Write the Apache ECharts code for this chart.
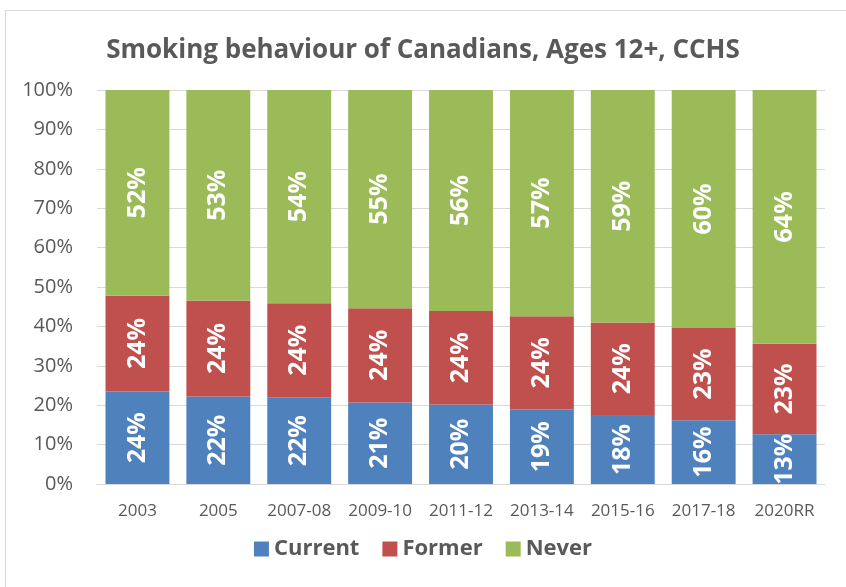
<!DOCTYPE html>
<html>
<head>
<meta charset="utf-8">
<script src="https://cdn.jsdelivr.net/npm/echarts@6/dist/echarts.min.js"></script>
<style>
html,body{margin:0;padding:0;background:#fff;}
#frame{position:absolute;left:5px;top:10px;width:860px;height:600px;border:1px solid #d9d9d9;box-sizing:border-box;}
#chart{position:absolute;left:0;top:0;width:846px;height:587px;}
</style>
</head>
<body>
<div id="frame"></div>
<div id="chart"></div>
<script>
const categories = ['2003','2005','2007-08','2009-10','2011-12','2013-14','2015-16','2017-18','2020RR'];
const current = [23.5, 22.2, 22.0, 20.7, 20.2, 18.9, 17.5, 16.2, 12.6];
const former  = [24.3, 24.4, 23.9, 23.9, 23.7, 23.7, 23.5, 23.4, 23.0];
const never   = [52.2, 53.4, 54.1, 55.4, 56.1, 57.4, 59.0, 60.4, 64.4];
const yTicks  = [0,10,20,30,40,50,60,70,80,90,100];

const FONT = '"Open Sans", "Noto Sans", sans-serif';
const chart = echarts.init(document.getElementById('chart'), null, {renderer:'canvas'});

function mkSeries(name, data, color){
  return {
    name, type:'bar', stack:'total', data,
    barCategoryGap:'21%',
    itemStyle:{color},
    label:{
      show:true, position:'inside', rotate:90,
      color:'#ffffff', fontWeight:'bold', fontSize:25, fontFamily:FONT,
      formatter:p=>Math.round(p.value)+'%'
    }
  };
}

chart.setOption({
  animation:false,
  title:{
    text:'Smoking behaviour of Canadians, Ages 12+, CCHS',
    left:'center', top:33,
    textStyle:{color:'#595959', fontSize:26, fontWeight:'bold', fontFamily:FONT}
  },
  grid:{left:97, right:21, top:90, bottom:103, containLabel:false},
  legend:{
    bottom:22, left:'center', itemWidth:15, itemHeight:15, itemGap:23,
    icon:'rect',
    textStyle:{color:'#595959', fontSize:22, fontWeight:'bold', fontFamily:FONT},
    data:['Current','Former','Never']
  },
  xAxis:{
    type:'category', data:categories,
    axisLine:{lineStyle:{color:'#d9d9d9', width:1}},
    axisTick:{show:false},
    axisLabel:{color:'#595959', fontSize:17, fontFamily:FONT, margin:19, interval:0}
  },
  yAxis:{
    type:'value', min:0, max:100, interval:10,
    axisLine:{show:false}, axisTick:{show:false},
    splitLine:{lineStyle:{color:'#d9d9d9', width:1}},
    axisLabel:{color:'#595959', fontSize:20, fontFamily:FONT, margin:24,
      formatter:v=>yTicks.includes(v)? v+'%' : ''}
  },
  series:[
    mkSeries('Current', current, '#4f81bd'),
    mkSeries('Former', former, '#c0504d'),
    mkSeries('Never', never, '#9bbb59')
  ]
});
</script>
</body>
</html>
